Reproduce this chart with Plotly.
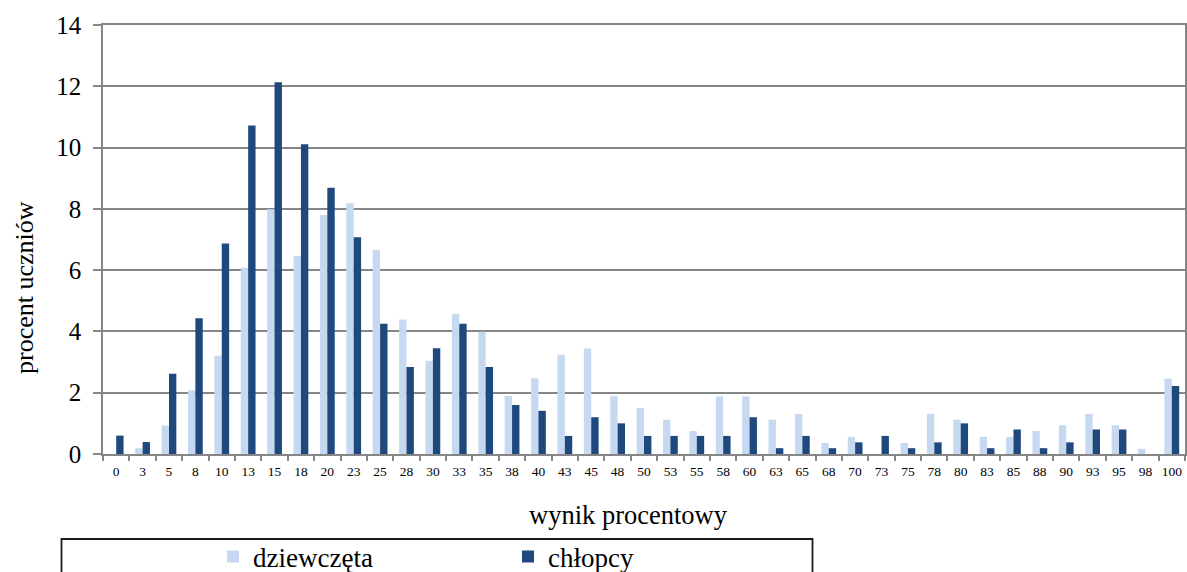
import plotly.graph_objects as go

categories = ["0", "3", "5", "8", "10", "13", "15", "18", "20", "23", "25", "28", "30", "33",
              "35", "38", "40", "43", "45", "48", "50", "53", "55", "58", "60", "63", "65", "68",
              "70", "73", "75", "78", "80", "83", "85", "88", "90", "93", "95", "98", "100"]

dziewczeta = [0.0, 0.19, 0.93, 2.08, 3.21, 6.08, 7.99, 6.46, 7.80, 8.18, 6.66, 4.39, 3.04, 4.57,
              3.99, 1.89, 2.47, 3.24, 3.44, 1.89, 1.50, 1.12, 0.75, 1.88, 1.88, 1.12, 1.31, 0.36,
              0.56, 0.0, 0.36, 1.31, 1.12, 0.56, 0.56, 0.75, 0.94, 1.31, 0.94, 0.17, 2.46]

chlopcy = [0.60, 0.39, 2.62, 4.43, 6.87, 10.72, 12.13, 10.11, 8.69, 7.07, 4.25, 2.84, 3.45, 4.25,
           2.84, 1.60, 1.41, 0.59, 1.20, 1.00, 0.59, 0.59, 0.59, 0.59, 1.20, 0.19, 0.59, 0.19,
           0.38, 0.59, 0.19, 0.38, 1.00, 0.19, 0.80, 0.19, 0.38, 0.80, 0.80, 0.0, 2.22]

y_ticks = [0, 2, 4, 6, 8, 10, 12, 14]

FONT = "'Liberation Serif', 'Times New Roman', serif"
GRID = "#868686"

fig = go.Figure()
fig.add_trace(go.Bar(x=categories, y=dziewczeta, name="dziewczęta",
                     marker=dict(color="#C6D9F1", line=dict(width=0))))
fig.add_trace(go.Bar(x=categories, y=chlopcy, name="chłopcy",
                     marker=dict(color="#1F497D", line=dict(width=0))))

W, H = 1187, 572
ml, mr, mt, mb = 103, 2, 25, 118
pw, ph = W - ml - mr, H - mt - mb

def px_x(p):
    return (p - ml) / pw

def px_y(p):
    return (H - mb - p) / ph

fig.update_layout(
    width=W, height=H,
    margin=dict(l=ml, r=mr, t=mt, b=mb, autoexpand=False),
    paper_bgcolor="white", plot_bgcolor="white",
    font=dict(family=FONT, color="black"),
    barmode="group", bargap=0.44, bargroupgap=0,
    showlegend=True,
    legend=dict(orientation="h", x=px_x(213), xanchor="left", y=px_y(557), yanchor="middle",
                font=dict(family=FONT, size=27, color="black"),
                entrywidth=250, entrywidthmode="pixels",
                bgcolor="rgba(0,0,0,0)", borderwidth=0, traceorder="normal"),
    xaxis=dict(type="category", tickson="boundaries", ticks="outside", ticklen=5,
               tickcolor=GRID, tickwidth=1.5, automargin=False,
               showline=True, linecolor=GRID, linewidth=1.5, mirror=True,
               showgrid=False, tickangle=0, ticklabelstandoff=4,
               tickfont=dict(family=FONT, size=13.5, color="black")),
    yaxis=dict(range=[0, 14], tickvals=y_ticks, ticks="outside", ticklen=8,
               tickcolor=GRID, tickwidth=1.5, automargin=False,
               showline=True, linecolor=GRID, linewidth=1.5, mirror=True,
               showgrid=True, gridcolor=GRID, gridwidth=1.5, zeroline=False,
               tickfont=dict(family=FONT, size=25, color="black"),
               ticklabelstandoff=7),
    annotations=[
        dict(text="procent uczniów", textangle=-90, showarrow=False,
             xref="paper", yref="paper", x=px_x(24), y=px_y(288),
             xanchor="center", yanchor="middle",
             font=dict(family=FONT, size=26, color="black")),
        dict(text="wynik procentowy", showarrow=False,
             xref="paper", yref="paper", x=px_x(628), y=px_y(515),
             xanchor="center", yanchor="middle",
             font=dict(family=FONT, size=26.5, color="black")),
    ],
    shapes=[dict(type="rect", xref="paper", yref="paper",
                 x0=px_x(61.5), x1=px_x(812.5), y0=px_y(620), y1=px_y(539),
                 line=dict(color="#1a1a1a", width=1.8), fillcolor="rgba(0,0,0,0)")],
)

fig.write_html("out.html", config={"displayModeBar": False},
               post_script="document.body.style.margin='0';document.body.style.overflow='hidden';")
